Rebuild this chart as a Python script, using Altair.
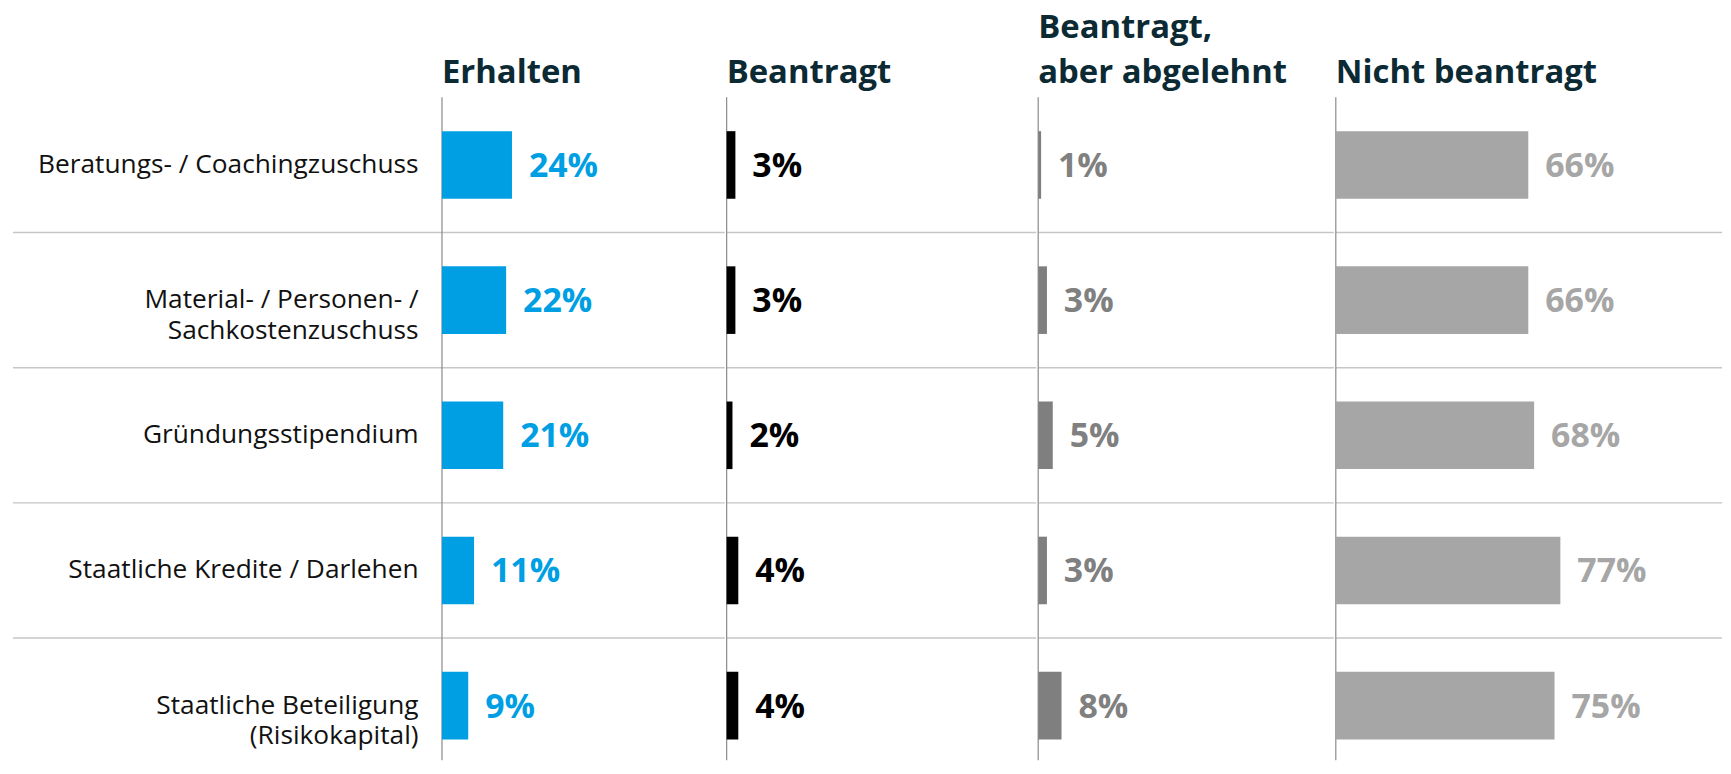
import altair as alt
import pandas as pd

# ---- data ----
categories = [
    "Beratungs- / Coachingzuschuss",
    "Material- / Personen- /|Sachkostenzuschuss",
    "Gründungsstipendium",
    "Staatliche Kredite / Darlehen",
    "Staatliche Beteiligung|(Risikokapital)",
]
erhalten = [24, 22, 21, 11, 9]
beantragt = [3, 3, 2, 4, 4]
abgelehnt = [1, 3, 5, 3, 8]
nicht_beantragt = [66, 66, 68, 77, 75]

headers = [["Erhalten"], ["Beantragt"], ["Beantragt,", "aber abgelehnt"], ["Nicht beantragt"]]
series = [erhalten, beantragt, abgelehnt, nicht_beantragt]
bar_colors = ["#009fe3", "#000000", "#7f7f7f", "#a6a6a6"]
text_colors = ["#009fe3", "#000000", "#808080", "#a6a6a6"]

# ---- styling / layout ----
FONT = "Open Sans"
HEADER_COLOR = "#0c2a33"
PANEL_WIDTHS = [284, 311, 297, 388]
PLOT_HEIGHT = 666
ROW_RANGE = 679
PX_PER_PCT = 2.93
LEFT_EXT = 431


def panel(i):
    width = PANEL_WIDTHS[i]
    df = pd.DataFrame({"cat": categories, "value": series[i]})
    yscale = alt.Scale(domain=categories, range=[0, ROW_RANGE], paddingInner=0, paddingOuter=0)
    xscale = alt.Scale(domain=[0, width / PX_PER_PCT])
    if i == 0:
        yaxis = alt.Axis(
            domain=False, ticks=False, grid=False, title=None,
            labelPadding=24, labelFontSize=26.4, labelFont=FONT, labelColor="#111111",
            labelLineHeight=31, labelLimit=600, labelBaseline="middle",
            labelExpr="split(datum.label, '|')",
        )
    else:
        yaxis = None
    y = alt.Y("cat:N", scale=yscale, axis=yaxis, title=None)
    x = alt.X("value:Q", scale=xscale, axis=None)

    base = alt.Chart(df)
    bars = base.mark_bar(height={"band": 0.5}, color=bar_colors[i]).encode(x=x, y=y)
    texts = base.transform_calculate(label="datum.value + '%'").mark_text(
        align="left", baseline="middle", dx=17, dy=2, fontSize=34, fontWeight="bold",
        font=FONT, color=text_colors[i],
    ).encode(x=x, y=y, text="label:N")

    sep_enc = dict(y=alt.Y("cat:N", scale=yscale, axis=yaxis, title=None, bandPosition=0))
    if i == 0:
        sep_enc["x"] = alt.value(-LEFT_EXT)
        sep_enc["x2"] = alt.value(width)
    seps = base.transform_filter(f"datum.cat != '{categories[0]}'").mark_rule(
        color="#c6c6c6", strokeWidth=1.4
    ).encode(**sep_enc)

    vline = alt.Chart(pd.DataFrame({"v": [0]})).mark_rule(color="#8a8a8a", strokeWidth=1.2).encode(
        x=alt.X("v:Q", scale=xscale, axis=None)
    )

    return alt.layer(seps, vline, bars, texts).properties(
        width=width,
        height=PLOT_HEIGHT,
        title=alt.TitleParams(
            text=headers[i], anchor="start", frame="group", baseline="bottom", offset=-26,
            fontSize=33, fontWeight="bold", font=FONT, color=HEADER_COLOR, lineHeight=45,
        ),
    )


chart = alt.hconcat(*[panel(i) for i in range(4)], spacing=0).properties(
    padding={"left": 4, "top": 2, "right": 0, "bottom": 0}
).configure_view(strokeWidth=0)

chart.save("out.html", embed_options={"renderer": "svg", "actions": False})
